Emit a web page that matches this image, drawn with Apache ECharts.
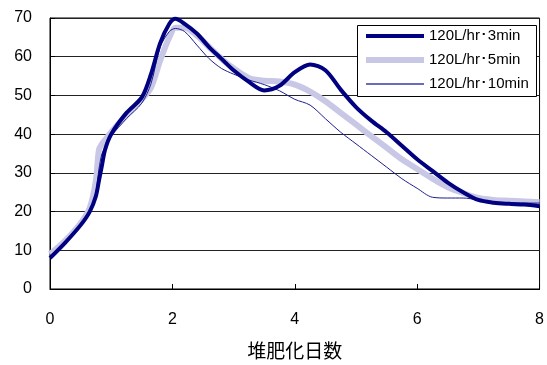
<!DOCTYPE html>
<html><head><meta charset="utf-8">
<script src="https://cdn.jsdelivr.net/npm/echarts@6/dist/echarts.min.js"></script>
<style>html,body{margin:0;padding:0;background:#fff}#c{width:547px;height:365px}</style>
</head><body><div id="c"></div>
<script>
const days = [0,0.25,0.5,0.65,0.75,0.8,0.85,0.9,1.0,1.25,1.5,1.65,1.8,1.95,2.05,2.2,2.4,2.6,2.8,3.0,3.25,3.5,3.75,4.0,4.25,4.5,4.75,5.0,5.25,5.5,5.75,6.0,6.25,6.5,6.75,7.0,7.25,7.5,7.75,8.0];
const s3min = [8,12,16.5,20,24,28,32,36,40,45.5,49.5,55.5,63.5,68.5,69.8,68.5,66,62.5,59.5,56.5,53.5,51.3,52.5,56,58,56.5,51.5,47,43.5,40.5,37,33.5,30.5,27.5,25,23,22.3,22,21.8,21.4];
const s5min = [9,12.5,17,21,28,36,37.5,38.5,40.5,45,49,52,59,65,67.5,67.5,65.5,62.5,59.5,57,54.5,53.8,53.6,52.8,51,48.5,45.5,42.5,39.5,36.5,33.5,31,28.5,26.3,24.8,23.5,23,22.8,22.6,22.4];
const s10min = [8,12,16.5,20,25,31,35,36.5,39.5,44,48,53,62.5,66.5,67.3,66.5,63,59.5,57,55.5,54,52.8,51.2,49,47.5,44,40.5,37.5,34.5,31.5,28.5,26,23.7,23.5,23.5,23,22.5,22.3,22.2,22.2];
const seriesNames = ['120L/hr･3min','120L/hr･5min','120L/hr･10min'];
const xTitle = '堆肥化日数';

const pair = v => days.map((d,i)=>[d,v[i]]);
const chart = echarts.init(document.getElementById('c'));
const font = '"Liberation Sans", Arial, sans-serif';
const legendStyles = [
  {color:'#000080', h:4, top:28},
  {color:'#c8c8e6', h:6, top:52},
  {color:'#6a6abf', h:2, top:76}
];
chart.setOption({
  animation:false,
  grid:{left:50,right:6,top:18,bottom:72,show:true,borderColor:'#000',borderWidth:1},
  graphic:[{type:'rect',left:357,top:25,z:5,shape:{width:179,height:71},style:{fill:'#fff',stroke:'#000',lineWidth:1}}],
  legend: seriesNames.map((n,i)=>({
    orient:'horizontal',left:366,top:legendStyles[i].top,padding:0,z:10,
    itemWidth:58,itemHeight:legendStyles[i].h,itemGap:0,
    textStyle:{fontFamily:font,fontSize:15,color:'#000',lineHeight:16,padding:[0,0,0,0]},
    data:[{name:n,icon:'rect',itemStyle:{color:legendStyles[i].color,borderWidth:0}}]
  })),
  xAxis:{type:'value',min:0,max:8,interval:2,
    axisLine:{lineStyle:{color:'#000'}},
    axisTick:{inside:true,length:5,lineStyle:{color:'#000'}},
    splitLine:{show:false},
    axisLabel:{fontFamily:font,fontSize:16,color:'#000',margin:23},
    name:xTitle,nameLocation:'middle',nameGap:52,
    nameTextStyle:{fontFamily:'"Noto Sans CJK JP", sans-serif',fontSize:19,color:'#000'}
  },
  yAxis:{type:'value',min:0,max:70,interval:10,
    axisLine:{show:true,lineStyle:{color:'#000'}},
    axisTick:{show:true,inside:true,length:5,lineStyle:{color:'#000'}},
    splitLine:{lineStyle:{color:'#222',width:1}},
    axisLabel:{fontFamily:font,fontSize:16,color:'#000',margin:18}
  },
  series:[
    {name:seriesNames[1],type:'line',data:pair(s5min),smooth:0.3,showSymbol:false,symbol:'none',
      lineStyle:{color:'#c8c8e6',width:6},itemStyle:{color:'#c8c8e6'},z:2},
    {name:seriesNames[2],type:'line',data:pair(s10min),smooth:0.3,showSymbol:false,symbol:'none',
      lineStyle:{color:'#1c1c90',width:1},itemStyle:{color:'#6a6abf'},z:3},
    {name:seriesNames[0],type:'line',data:pair(s3min),smooth:0.3,showSymbol:false,symbol:'none',
      lineStyle:{color:'#000080',width:4},itemStyle:{color:'#000080'},z:4}
  ]
});
</script></body></html>
